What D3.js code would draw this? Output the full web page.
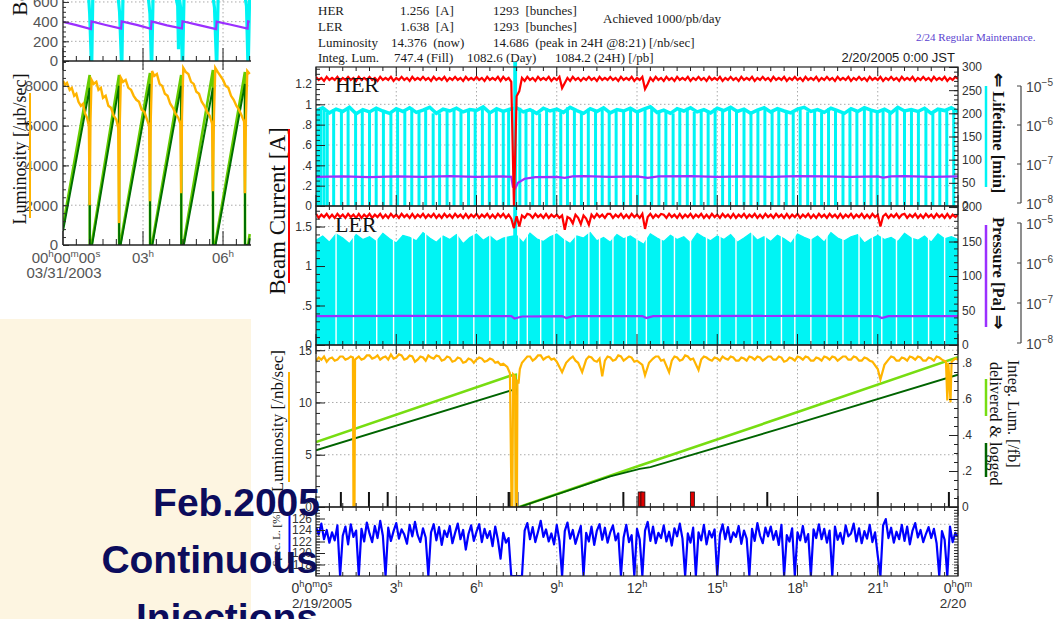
<!DOCTYPE html>
<html><head><meta charset="utf-8">
<script src="https://cdn.jsdelivr.net/npm/d3@7"></script>
<style>
html,body{margin:0;padding:0;background:#fff;}
svg{display:block;}
</style></head><body>
<svg id="chart" width="1057" height="619"></svg>
<script>
// ================= DATA =================
const STEP = 0.1;   // hours between samples (current / spec. lum.)
const LSTEP = 0.25; // hours between samples (lifetime levels)

// HER beam current [A], every 0.1 h from 0h to 24h
const herCurrent = [
1.27,1.24,1.26,1.23,1.27,1.24,1.26,1.24,1.27,1.23,
1.26,1.24,1.27,1.24,1.26,1.23,1.27,1.24,1.26,1.24,
1.27,1.24,1.26,1.23,1.27,1.24,1.26,1.24,1.27,1.23,
1.26,1.24,1.27,1.24,1.26,1.23,1.27,1.24,1.26,1.24,
1.27,1.24,1.26,1.23,1.27,1.24,1.26,1.24,1.27,1.23,
1.26,1.24,1.27,1.24,1.26,1.23,1.27,1.24,1.26,1.24,
1.27,1.24,1.26,1.23,1.27,1.24,1.26,1.24,1.27,1.23,
1.27,1.24,1.26,1.22,0.00,1.08,1.13,1.26,1.23,1.27,
1.24,1.26,1.23,1.27,1.24,1.26,1.24,1.27,1.23,1.26,
1.24,1.27,1.16,1.21,1.26,1.23,1.27,1.24,1.26,1.23,
1.26,1.24,1.27,1.24,1.26,1.23,1.27,1.24,1.26,1.24,
1.27,1.24,1.26,1.23,1.27,1.24,1.26,1.24,1.27,1.23,
1.26,1.24,1.27,1.15,1.20,1.26,1.23,1.27,1.24,1.26,
1.23,1.27,1.24,1.26,1.23,1.27,1.24,1.26,1.24,1.27,
1.23,1.26,1.24,1.27,1.24,1.26,1.23,1.27,1.24,1.26,
1.24,1.27,1.23,1.26,1.24,1.27,1.24,1.26,1.23,1.27,
1.24,1.26,1.24,1.27,1.23,1.26,1.24,1.27,1.24,1.26,
1.23,1.27,1.24,1.26,1.24,1.27,1.23,1.26,1.24,1.27,
1.24,1.26,1.23,1.27,1.24,1.26,1.24,1.27,1.23,1.26,
1.24,1.27,1.24,1.26,1.23,1.27,1.24,1.26,1.24,1.27,
1.23,1.26,1.24,1.27,1.24,1.26,1.23,1.27,1.24,1.26,
1.24,1.27,1.23,1.26,1.24,1.27,1.24,1.26,1.23,1.27,
1.24,1.26,1.24,1.27,1.23,1.26,1.24,1.27,1.24,1.26,
1.23,1.27,1.24,1.26,1.24,1.27,1.23,1.26,1.24,1.27,
1.25];

// LER beam current [A], every 0.1 h
const lerCurrent = [
1.66,1.61,1.65,1.62,1.66,1.61,1.65,1.61,1.66,1.62,
1.65,1.61,1.66,1.62,1.65,1.61,1.66,1.61,1.65,1.62,
1.66,1.61,1.65,1.62,1.66,1.61,1.65,1.61,1.66,1.62,
1.65,1.61,1.66,1.62,1.65,1.61,1.66,1.61,1.65,1.62,
1.66,1.61,1.65,1.62,1.66,1.61,1.65,1.61,1.66,1.62,
1.65,1.61,1.66,1.62,1.65,1.61,1.66,1.61,1.65,1.62,
1.66,1.61,1.65,1.62,1.66,1.61,1.65,1.61,1.66,1.62,
1.66,1.61,1.65,1.60,1.48,1.63,1.50,1.64,1.61,1.66,
1.65,1.61,1.66,1.62,1.65,1.61,1.66,1.61,1.65,1.62,
1.65,1.61,1.64,1.46,1.62,1.60,1.54,1.65,1.61,1.53,
1.64,1.60,1.52,1.65,1.61,1.66,1.62,1.65,1.61,1.66,
1.66,1.61,1.65,1.62,1.66,1.61,1.65,1.61,1.66,1.62,
1.65,1.61,1.66,1.47,1.62,1.66,1.61,1.65,1.62,1.66,
1.65,1.61,1.66,1.62,1.65,1.61,1.66,1.61,1.65,1.62,
1.66,1.61,1.65,1.62,1.66,1.61,1.65,1.61,1.66,1.62,
1.65,1.61,1.66,1.62,1.65,1.61,1.66,1.61,1.65,1.62,
1.66,1.61,1.65,1.62,1.66,1.61,1.65,1.61,1.66,1.62,
1.65,1.61,1.66,1.62,1.65,1.61,1.66,1.61,1.65,1.62,
1.66,1.61,1.65,1.62,1.66,1.61,1.65,1.61,1.66,1.62,
1.65,1.61,1.66,1.62,1.65,1.61,1.66,1.61,1.65,1.62,
1.66,1.61,1.65,1.62,1.66,1.61,1.65,1.61,1.66,1.62,
1.65,1.50,1.63,1.66,1.61,1.65,1.62,1.66,1.61,1.65,
1.66,1.61,1.65,1.62,1.66,1.61,1.65,1.61,1.66,1.62,
1.65,1.61,1.66,1.62,1.65,1.61,1.66,1.61,1.65,1.62,
1.65];

// Specific luminosity [%], every 0.1 h
const specLumi = [
124.5,123.2,125.1,122.4,124.0,121.8,123.6,122.2,124.8,116.0,
123.0,124.6,121.5,125.0,122.8,123.9,116.0,124.2,122.0,125.3,
123.4,121.9,124.7,122.6,125.6,123.0,116.0,124.4,122.1,123.8,
125.2,122.5,124.1,123.2,121.6,124.9,122.9,125.4,123.1,121.9,
124.3,122.7,116.0,123.6,125.0,122.2,124.5,121.4,123.9,122.8,
124.7,121.7,123.5,125.1,122.4,124.0,120.6,123.3,124.8,122.1,
123.7,125.0,121.9,124.2,122.6,123.8,121.2,124.6,122.3,119.0,
123.5,121.8,122.6,116.0,116.0,116.0,116.0,116.0,123.9,125.2,
122.4,124.5,121.9,123.7,125.6,122.8,124.1,122.0,123.4,121.5,
124.9,122.1,116.0,123.8,125.3,122.5,124.0,121.6,123.2,124.7,
116.0,123.5,122.0,124.6,121.4,123.9,125.0,122.3,124.4,121.8,
123.6,124.8,122.2,123.4,116.0,122.7,124.9,121.9,123.1,116.0,
124.2,122.4,116.0,123.9,125.4,122.1,124.6,121.7,123.5,122.6,
124.8,122.0,123.7,121.3,124.3,122.9,125.1,122.5,116.0,123.4,
121.8,124.4,116.0,123.6,122.2,124.9,121.5,123.8,122.7,124.1,
116.0,123.2,125.0,122.4,124.5,121.9,123.6,122.8,124.7,121.6,
123.9,122.5,116.0,124.2,122.1,125.2,123.0,121.7,124.4,122.9,
124.6,122.3,123.8,121.4,124.9,116.0,123.1,122.0,124.3,116.0,
123.6,122.2,124.7,121.9,123.3,116.0,124.1,122.6,125.0,122.4,
124.2,121.8,123.9,116.0,124.6,122.3,123.5,121.6,124.8,122.9,
123.4,125.1,122.0,124.3,121.7,123.8,122.5,124.9,121.9,123.6,
119.5,116.0,124.8,125.9,122.6,124.4,121.8,123.7,122.4,124.9,
122.1,124.6,121.5,123.9,125.2,122.7,124.0,121.9,123.3,124.5,
122.6,124.2,121.7,116.0,123.8,122.3,116.0,124.6,121.9,123.5,
122.8];

// HER lifetime level [min], every 0.25 h
const herLifetime = [
206,212,201,209,204,213,199,208,203,211,205,200,210,204,212,202,207,213,200,209,205,211,203,208,206,214,201,210,204,209,
212,203,208,200,211,205,209,202,213,206,200,210,204,212,201,208,205,211,203,209,214,202,207,200,210,205,212,203,208,201,
211,206,213,204,209,200,207,212,203,210,205,201,209,213,204,208,202,211,206,200,210,204,212,207,203,209,201,213,205,208,
204,211,200,209,206,212,203];
// LER lifetime level [min], every 0.25 h
const lerLifetime = [
152,158,149,161,155,147,160,153,157,150,162,154,148,159,156,151,163,155,149,158,153,160,147,156,161,152,158,150,155,157,
159,148,162,154,150,157,161,153,147,158,155,163,151,156,149,160,154,158,152,146,161,155,150,159,153,157,148,162,156,151,
158,153,160,149,155,162,152,157,150,159,154,147,161,156,152,158,149,163,155,151,157,160,148,154,159,153,156,150,162,155,
152,158,149,161,154,157,153];

// HER injection times [h] (lifetime drops)
const herInjections = [0.03,0.1,0.18,0.3,0.42,0.66,0.95,1.2,1.48,1.73,2.0,2.25,2.52,2.8,3.05,3.32,3.58,3.85,4.1,4.38,4.62,4.9,5.16,5.42,5.7,5.95,6.22,6.48,6.74,7.0,7.2,
7.62,7.85,8.1,8.36,8.62,8.9,9.15,9.4,9.66,9.92,10.18,10.45,10.7,10.96,11.22,11.5,11.76,12.02,12.3,12.55,12.82,13.08,13.35,13.6,13.88,14.14,14.4,14.66,14.92,15.2,15.46,15.72,16.0,16.26,16.52,16.78,17.05,17.3,17.58,17.84,18.1,18.38,18.64,18.9,19.16,19.42,19.7,19.96,20.22,20.5,20.75,20.98,21.2,21.45,21.72,22.0,22.26,22.52,22.8,23.06,23.32,23.58,23.84];
// LER: times where continuous injection paused (white gaps)
const lerGaps = [0.75,1.4,2.27,2.9,3.6,4.1,4.7,5.3,5.9,6.5,7.1,7.58,7.9,8.4,8.9,9.3,9.7,10.2,10.6,11.1,11.6,12.0,12.35,12.9,13.4,14.0,14.6,15.1,15.7,16.3,16.8,17.4,17.9,18.5,19.1,19.7,20.3,20.8,21.15,21.7,22.3,22.9,23.5];
// Lifetime spike (beam abort) times [h]
const lifetimeKick = [7.42,7.47];

// Pressure [Pa]  [hour, value]
const herPressure = [[0,4.7e-8],[1,4.8e-8],[2,4.6e-8],[3,4.8e-8],[4,4.7e-8],[5,4.9e-8],[6,4.7e-8],[7,4.8e-8],[7.3,4.7e-8],[7.36,2.6e-8],[7.45,2.4e-8],[7.55,3.3e-8],[7.8,4.2e-8],[8.2,4.6e-8],[9,4.7e-8],[9.3,4.4e-8],[9.6,4.8e-8],[10,4.9e-8],[11,4.7e-8],[12,4.8e-8],[12.4,4.4e-8],[12.8,4.8e-8],[14,4.9e-8],[15,4.7e-8],[16,4.8e-8],[17,4.7e-8],[18,4.9e-8],[19,4.8e-8],[20,4.7e-8],[21,4.8e-8],[21.2,4.5e-8],[21.5,4.8e-8],[22,4.9e-8],[23,4.7e-8],[24,4.8e-8]];
const lerPressure = [[0,4.7e-8],[3,4.75e-8],[7.3,4.7e-8],[7.42,4.1e-8],[7.7,4.6e-8],[9.2,4.7e-8],[9.35,4.2e-8],[9.6,4.7e-8],[12.2,4.7e-8],[12.35,4.2e-8],[12.6,4.7e-8],[18,4.75e-8],[21.0,4.7e-8],[21.15,4.2e-8],[21.4,4.7e-8],[24,4.7e-8]];

// Luminosity [/nb/sec]  [hour, value]
const luminosity = [[0,14.0],[0.1,14.3],[0.2,14.1],[0.3,14.4],[0.4,13.9],[0.5,14.2],[0.6,14.3],[0.7,14.0],[0.8,14.1],[0.9,14.4],[1.0,14.4],[1.1,14.1],[1.2,14.2],[1.3,14.4],[1.38,14.3],[1.4,0],[1.44,0],[1.46,14.1],[1.6,14.4],[1.7,14.1],[1.8,14.2],[1.9,14.5],[2.0,14.5],[2.1,14.2],[2.2,14.3],[2.3,14.5],[2.4,14.1],[2.5,14.3],[2.6,14.4],[2.7,14.1],[2.8,14.6],[2.9,14.2],[3.0,14.3],[3.1,14.6],[3.2,14.5],[3.3,14.1],[3.4,14.2],[3.5,14.5],[3.6,14.4],[3.7,13.9],[3.8,14.1],[3.9,14.4],[4.0,14.3],[4.1,14.0],[4.2,14.5],[4.3,14.3],[4.4,14.2],[4.5,14.5],[4.6,14.4],[4.7,14.0],[4.8,14.1],[4.9,14.4],[5.0,14.3],[5.1,13.9],[5.2,14.0],[5.3,14.3],[5.4,14.2],[5.5,13.8],[5.6,13.9],[5.7,14.2],[5.8,14.1],[5.9,13.8],[6.0,14.1],[6.1,14.3],[6.2,14.2],[6.3,13.9],[6.4,14.0],[6.5,14.2],[6.6,14.1],[6.7,13.8],[6.8,13.9],[6.9,13.6],[7.0,13.7],[7.15,13.4],[7.25,12.8],[7.31,0],[7.34,0],[7.37,12.7],[7.44,12.5],[7.47,0],[7.51,0],[7.53,12.2],[7.57,11.8],[7.62,13.2],[7.7,13.8],[7.8,14.1],[7.9,14.4],[8.0,14.4],[8.1,14.0],[8.2,14.2],[8.3,14.5],[8.4,14.5],[8.5,14.1],[8.6,14.3],[8.7,14.4],[8.8,14.1],[8.9,14.2],[9.0,13.9],[9.2,12.9],[9.35,13.8],[9.5,14.2],[9.6,14.4],[9.7,14.0],[9.8,13.8],[9.95,12.9],[10.1,14.1],[10.2,14.4],[10.3,14.3],[10.4,14.0],[10.5,13.9],[10.6,14.2],[10.7,12.5],[10.8,14.0],[10.9,14.4],[11.0,14.3],[11.1,14.0],[11.2,14.1],[11.3,14.5],[11.4,14.4],[11.5,14.0],[11.6,14.2],[11.7,14.4],[11.8,14.3],[11.9,13.9],[12.0,14.0],[12.2,13.6],[12.3,12.6],[12.45,13.8],[12.6,14.2],[12.7,14.4],[12.8,14.4],[12.9,14.0],[13.0,14.1],[13.2,12.9],[13.3,14.0],[13.4,14.4],[13.5,14.3],[13.6,14.0],[13.7,14.1],[13.8,14.5],[13.9,14.4],[14.0,14.1],[14.1,14.2],[14.3,13.1],[14.4,14.1],[14.5,14.4],[14.6,14.3],[14.7,14.1],[14.8,14.0],[14.9,14.3],[15.0,14.2],[15.1,14.0],[15.2,14.4],[15.3,14.2],[15.4,14.1],[15.5,14.4],[15.6,14.3],[15.7,14.0],[15.8,14.0],[15.9,14.3],[16.0,14.2],[16.1,14.0],[16.2,14.4],[16.3,14.3],[16.4,14.1],[16.5,14.4],[16.6,14.3],[16.7,14.0],[16.8,14.2],[16.9,14.4],[17.0,14.4],[17.1,14.1],[17.2,14.1],[17.3,14.4],[17.4,14.3],[17.5,13.9],[17.6,14.0],[17.7,14.3],[17.8,14.2],[17.9,14.0],[18.0,14.4],[18.1,14.3],[18.2,14.1],[18.3,14.4],[18.4,14.3],[18.5,14.0],[18.6,14.0],[18.7,14.3],[18.8,14.2],[18.9,14.0],[19.0,14.4],[19.1,14.3],[19.2,14.1],[19.3,14.4],[19.4,14.3],[19.5,14.0],[19.6,14.2],[19.7,14.4],[19.8,14.4],[19.9,14.1],[20.0,14.1],[20.1,14.4],[20.2,14.3],[20.3,14.0],[20.4,14.0],[20.5,14.3],[20.6,14.2],[20.7,14.0],[20.8,13.9],[21.0,13.2],[21.1,12.2],[21.25,13.6],[21.4,14.1],[21.5,14.4],[21.6,14.3],[21.7,14.0],[21.8,14.0],[21.9,14.3],[22.0,14.2],[22.1,14.0],[22.2,14.4],[22.3,14.3],[22.4,14.1],[22.5,14.4],[22.6,14.3],[22.7,14.0],[22.8,14.0],[22.9,14.3],[23.0,14.2],[23.1,14.0],[23.2,14.4],[23.3,14.3],[23.4,14.1],[23.55,13.9],[23.6,10.2],[23.64,13.8],[23.72,10.0],[23.76,13.9],[23.9,14.2],[24.0,14.1]];
// Integrated luminosity [/fb]  [hour, value]
const integDelivered = [[0,0.361],[7.3,0.731],[7.47,0.735],[7.48,0],[7.6,0],[12,0.225],[17.35,0.494],[24,0.832]];
const integLogged = [[0,0.315],[7.3,0.648],[7.47,0.652],[7.48,0],[7.6,0],[11.0,0.17],[12.1,0.212],[12.5,0.222],[17.35,0.435],[24,0.735]];
// Abort / trip markers
const tripMarks = [{t:0.93,k:"black"},{t:1.98,k:"black"},{t:2.68,k:"black"},{t:7.2,k:"black"},{t:7.26,k:"black"},{t:7.32,k:"black"},{t:7.53,k:"black"},{t:11.49,k:"black"},{t:12.12,k:"red"},{t:12.22,k:"red"},{t:14.07,k:"red"},{t:16.87,k:"black"},{t:21.0,k:"black"},{t:23.66,k:"black"}];

// Tick values / labels
const herTicks = [0,0.2,0.4,0.6,0.8,1,1.2];
const lerTicks = [0,0.5,1,1.5];
const lifeTicks = [0,50,100,150,200,250,300];
const presTicks = [0,50,100,150,200];
const lumTicks = [0,5,10,15];
const integTicks = [0,0.2,0.4,0.6,0.8];
const specTicks = [118,120,122,124,126];
const logTicks = [1e-8,1e-7,1e-6,1e-5];
const timeLabels = [
 {t:0,parts:["0","h","0","m","0","s"],sub:"2/19/2005"},{t:3,parts:["3","h"]},{t:6,parts:["6","h"]},{t:9,parts:["9","h"]},
 {t:12,parts:["12","h"]},{t:15,parts:["15","h"]},{t:18,parts:["18","h"]},{t:21,parts:["21","h"]},{t:24,parts:["0","h","0","m"],sub:"2/20"}];

// ---- Inset (03/31/2003) ----
const insetCurrent = [[0,398],[0.5,365],[1.05,325],[1.07,402],[1.6,366],[2.18,330],[2.2,403],[2.8,365],[3.3,328],[3.32,402],[3.9,362],[4.46,330],[4.48,404],[5.1,365],[5.74,325],[5.76,400],[6.3,368],[6.92,330],[6.94,402],[7.0,398]];
const insetCyan = [[0,700],[0.95,700],[1.0,480],[1.06,0],[1.08,0],[1.12,700],[2.05,700],[2.12,500],[2.19,0],[2.21,0],[2.25,700],[3.18,700],[3.26,480],[3.31,0],[3.33,0],[3.38,700],[4.2,700],[4.3,560],[4.33,120],[4.36,650],[4.42,520],[4.47,0],[4.49,0],[4.54,700],[5.6,700],[5.68,540],[5.75,0],[5.77,0],[5.82,700],[6.8,700],[6.88,560],[6.93,0],[6.95,0],[7.0,700]];
const insetLum = [[0,8250],[0.08,8050],[0.15,8150],[0.25,7800],[0.33,7900],[0.42,7500],[0.5,7600],[0.58,7200],[0.67,7000],[0.75,7100],[0.83,6600],[0.9,6400],[0.97,6000],[1.0,2000],[1.03,6300],[1.07,8300],
[1.15,8100],[1.25,8200],[1.33,7800],[1.42,7900],[1.5,7400],[1.6,7500],[1.7,7000],[1.8,6900],[1.9,6500],[2.0,6300],[2.07,5900],[2.1,1100],[2.13,6200],[2.17,8400],
[2.25,8200],[2.35,8300],[2.45,7900],[2.55,7800],[2.65,7500],[2.75,7300],[2.85,7200],[2.95,6800],[3.05,6700],[3.15,6300],[3.23,6000],[3.26,2200],[3.29,6300],[3.34,8750],
[3.42,8500],[3.52,8600],[3.62,8100],[3.72,8000],[3.82,7600],[3.92,7500],[4.02,7100],[4.12,6900],[4.22,6600],[4.32,6400],[4.4,6100],[4.43,2600],[4.46,6400],[4.51,8900],
[4.6,8700],[4.7,8600],[4.8,8200],[4.9,8100],[5.0,7700],[5.1,7600],[5.2,7200],[5.3,7000],[5.4,6700],[5.5,6500],[5.59,6100],[5.62,2700],[5.66,6500],[5.71,8900],
[5.8,8700],[5.9,8500],[6.0,8300],[6.1,8000],[6.2,7900],[6.3,7500],[6.4,7300],[6.5,7000],[6.6,6800],[6.7,6500],[6.79,6200],[6.82,2600],[6.86,6500],[6.91,8750],[7.0,8600]];
const insetDelivered = [[0,950],[1.0,8550],[1.005,0],[1.07,0],[2.1,8550],[2.105,0],[2.14,0],[3.26,8650],[3.265,0],[3.33,0],[4.43,8550],[4.435,0],[4.51,0],[5.62,8800],[5.625,0],[5.7,0],[6.82,8700],[6.825,0],[6.94,0],[7.0,550]];
const insetLogged = [[0,700],[1.0,7900],[1.005,0],[1.09,0],[2.1,8000],[2.105,0],[2.16,0],[3.26,8100],[3.265,0],[3.35,0],[4.43,8000],[4.435,0],[4.53,0],[5.62,7900],[5.625,0],[5.72,0],[6.82,8100],[6.825,0],[6.96,0],[7.0,350]];
const insetCurrentTicks = [0,200,400,600];
const insetLumTicks = [0,2000,4000,6000,8000];
const insetTimeLabels = [{t:0,parts:["00","h","00","m","00","s"],sub:"03/31/2003"},{t:3,parts:["03","h"]},{t:6,parts:["06","h"]}];

const headerRows = [
 {y:15, cells:[[318,"HER"],[400,"1.256  [A]"],[493,"1293  [bunches]"]]},
 {y:31, cells:[[318,"LER"],[400,"1.638  [A]"],[493,"1293  [bunches]"]]},
 {y:47, cells:[[318,"Luminosity"],[391,"14.376  (now)"],[493,"14.686  (peak in 24H @8:21) [/nb/sec]"]]},
 {y:62, cells:[[318,"Integ. Lum."],[394,"747.4 (Fill)"],[467,"1082.6 (Day)"],[555,"1084.2 (24H) [/pb]"]]}
];

// ================= RENDER =================
const SERIF = "'Liberation Serif','Times New Roman',serif";
const SANS = "'Liberation Sans',Arial,sans-serif";
const svg = d3.select("#chart");
const defs = svg.append("defs");
function clip(id,x,y,w,h){defs.append("clipPath").attr("id",id).append("rect").attr("x",x).attr("y",y).attr("width",w).attr("height",h);return `url(#${id})`;}
const sampled = (arr, step) => arr.map((v,i)=>[i*step, v]);
function supText(g, parts, x, y, size, anchor, fill){
  const t = g.append("text").attr("x",x).attr("y",y).attr("text-anchor",anchor)
    .style("font-family",SANS).style("font-size",size+"px").attr("fill",fill);
  parts.forEach((p,i)=>{const s=t.append("tspan").text(p);
    if(i%2===1){s.attr("dy",-size*0.42).style("font-size",(size*0.66)+"px");}
    else if(i>0){s.attr("dy",size*0.42);} });
  return t;
}
const fmtDot = d => d===0 ? "0" : d3.format("~g")(d).replace(/^0\./,".");

// cream background box of the slide
svg.append("rect").attr("x",0).attr("y",319).attr("width",251).attr("height",300).attr("fill","#fdf5e1");

// ---------------- INSET ----------------
const ix = d3.scaleLinear([0,7],[63,249.7]);
const iyA = d3.scaleLinear([0,620],[61,0]);
const iyB = d3.scaleLinear([0,9250],[245,61]);
const inset = svg.append("g");
const grid = (g)=>g.attr("stroke","#aaa").attr("stroke-width",1).attr("stroke-dasharray","1.5,2.5");
inset.append("g").call(grid).selectAll("line").data([200,400,600]).join("line")
  .attr("x1",63).attr("x2",251).attr("y1",d=>iyA(d)).attr("y2",d=>iyA(d));
inset.append("g").call(grid).selectAll("line").data([2000,4000,6000,8000]).join("line")
  .attr("x1",63).attr("x2",251).attr("y1",d=>iyB(d)).attr("y2",d=>iyB(d));
inset.append("g").call(grid).selectAll("line").data([3,6]).join("line")
  .attr("x1",d=>ix(d)).attr("x2",d=>ix(d)).attr("y1",0).attr("y2",245);
const gA = inset.append("g").attr("clip-path",clip("cA",63,0,188,61));
gA.append("path").datum(insetCyan).attr("fill","none").attr("stroke","#00f4f4").attr("stroke-width",3.2)
  .attr("d",d3.line().x(d=>ix(d[0])).y(d=>iyA(d[1])));
gA.append("path").datum(insetCurrent).attr("fill","none").attr("stroke","#9b30ff").attr("stroke-width",2.2)
  .attr("d",d3.line().x(d=>ix(d[0])).y(d=>iyA(d[1])));
const gB = inset.append("g").attr("clip-path",clip("cB",63,61,188,184));
gB.append("path").datum(insetDelivered).attr("fill","none").attr("stroke","#66cc00").attr("stroke-width",2.6)
  .attr("d",d3.line().x(d=>ix(d[0])).y(d=>iyB(d[1])));
gB.append("path").datum(insetLogged).attr("fill","none").attr("stroke","#007000").attr("stroke-width",2)
  .attr("d",d3.line().x(d=>ix(d[0])).y(d=>iyB(d[1])));
gB.append("path").datum(insetLum).attr("fill","none").attr("stroke","#ffb400").attr("stroke-width",2.4)
  .attr("d",d3.line().x(d=>ix(d[0])).y(d=>iyB(d[1])));
function insetAxis(scale, major, minor){
  const g = inset.append("g").attr("transform","translate(63,0)");
  g.call(d3.axisLeft(scale).tickValues(minor).tickSize(-3).tickFormat(""));
  g.append("g").call(d3.axisLeft(scale).tickValues(major).tickSize(-6).tickPadding(5).tickFormat(d3.format("d")));
  g.selectAll(".domain").remove();
  g.selectAll("line").attr("stroke","#333");
  g.selectAll("text").attr("fill","#555").style("font-family",SANS).style("font-size","15px");
}
insetAxis(iyA, insetCurrentTicks, d3.range(0,620,50));
insetAxis(iyB, insetLumTicks, d3.range(0,9250,400));
inset.append("line").attr("x1",63).attr("x2",63).attr("y1",0).attr("y2",245).attr("stroke","#222").attr("stroke-width",1.3);
[61,245].forEach(y=>inset.append("line").attr("x1",63).attr("x2",251).attr("y1",y).attr("y2",y).attr("stroke","#222").attr("stroke-width",1.3));
const iticks = d3.range(0,7.01,0.5);
inset.append("g").selectAll("line").data(iticks).join("line").attr("stroke","#222")
  .attr("x1",d=>ix(d)).attr("x2",d=>ix(d)).attr("y1",d=>61-(d%3===0?13:5)).attr("y2",d=>61+(d%3===0?9:0));
inset.append("g").selectAll("line").data(iticks).join("line").attr("stroke","#222")
  .attr("x1",d=>ix(d)).attr("x2",d=>ix(d)).attr("y1",d=>245-(d%3===0?14:6)).attr("y2",245);
insetTimeLabels.forEach(l=>{
  supText(inset,l.parts,ix(l.t)+(l.t===0?3:0),263,15,"middle","#555");
  if(l.sub) inset.append("text").attr("x",64).attr("y",278).attr("text-anchor","middle")
     .style("font-family",SANS).style("font-size","15px").attr("fill","#555").text(l.sub);
});
inset.append("text").attr("transform","translate(26,149) rotate(-90)").attr("text-anchor","middle")
  .style("font-family",SERIF).style("font-size","18px").attr("fill","#111").text("Luminosity [/\u03bcb/sec]");
inset.append("text").attr("transform","translate(27,16) rotate(-90)").attr("text-anchor","start")
  .style("font-family",SERIF).style("font-size","22px").attr("fill","#111").text("Beam Current [mA]");
inset.append("line").attr("x1",30).attr("x2",30).attr("y1",93).attr("y2",218).attr("stroke","#ffb400").attr("stroke-width",2);

// ---------------- MAIN CHART ----------------
const X0 = 316, X1 = 958;
const x = d3.scaleLinear([0,24],[X0,X1]);
const panels = [{top:67,bot:206},{top:206,bot:345},{top:345,bot:507},{top:507,bot:576}];
const yHER = d3.scaleLinear([0,1.367],[206,67]);
const yHERlife = d3.scaleLinear([0,300],[206,67]);
const yLER = d3.scaleLinear([0,1.76],[345,206]);
const yLERlife = d3.scaleLinear([0,201.5],[345,206]);
const yP1 = d3.scaleLog([1e-8,1e-5],[203,86]);
const yP2 = d3.scaleLog([1e-8,1e-5],[343,223]);
const yLum = d3.scaleLinear([0,15.5],[507,345]);
const yInt = d3.scaleLinear([0,0.9],[507,345]);
const ySpec = d3.scaleLinear([116,128],[576,507]);
const main = svg.append("g");

headerRows.forEach(r=>r.cells.forEach(c=>main.append("text").attr("x",c[0]).attr("y",r.y)
  .style("font-family",SERIF).style("font-size","13px").attr("fill","#1a1a1a").attr("xml:space","preserve").text(c[1])));
main.append("text").attr("x",603).attr("y",23).style("font-family",SERIF).style("font-size","13px").attr("fill","#1a1a1a").text("Achieved 1000/pb/day");
main.append("text").attr("x",916).attr("y",41).style("font-family",SERIF).style("font-size","11px").attr("fill","#5a3fd0").text("2/24 Regular Maintenance.");
main.append("text").attr("x",955).attr("y",62).attr("text-anchor","end").style("font-family",SANS).style("font-size","13px").attr("fill","#1a1a1a").text("2/20/2005 0:00 JST");

function hGrid(scale, vals){ main.append("g").call(grid).selectAll("line").data(vals).join("line")
  .attr("x1",X0).attr("x2",X1).attr("y1",d=>scale(d)).attr("y2",d=>scale(d)); }
hGrid(yHER,[0.2,0.4,0.6,0.8,1.0]);
hGrid(yLER,[0.5,1,1.5]);
hGrid(yLum,[5,10,15]);
hGrid(ySpec,[118,125]);
panels.forEach(p=>main.append("g").call(grid).selectAll("line").data([3,6,9,12,15,18,21]).join("line")
  .attr("x1",d=>x(d)).attr("x2",d=>x(d)).attr("y1",p.top).attr("y2",p.bot));

// Panel 1 : HER
const g1 = main.append("g").attr("clip-path",clip("c1",X0,62,X1-X0,144));
g1.append("g").selectAll("line").data(herInjections).join("line")
  .attr("x1",d=>x(d)).attr("x2",d=>x(d)).attr("y1",d=>yHERlife(herLifetime[Math.round(d/LSTEP)])).attr("y2",yHERlife(0))
  .attr("stroke","#00f4f4").attr("stroke-width",3);
g1.append("path").datum(sampled(herLifetime, LSTEP)).attr("fill","none").attr("stroke","#00f4f4").attr("stroke-width",3.5)
  .attr("d",d3.line().x(d=>x(d[0])).y(d=>yHERlife(d[1])));
g1.append("g").selectAll("line").data(lifetimeKick).join("line")
  .attr("x1",d=>x(d)).attr("x2",d=>x(d)).attr("y1",yHERlife(330)).attr("y2",yHERlife(0)).attr("stroke","#00f4f4").attr("stroke-width",2.5);
g1.append("path").datum(herPressure).attr("fill","none").attr("stroke","#9b30ff").attr("stroke-width",2.2)
  .attr("d",d3.line().x(d=>x(d[0])).y(d=>yP1(d[1])));
g1.append("path").datum(sampled(herCurrent,STEP)).attr("fill","none").attr("stroke","#ff0000").attr("stroke-width",2.2)
  .attr("d",d3.line().x(d=>x(d[0])).y(d=>yHER(d[1])));

// Panel 2 : LER
const g2 = main.append("g").attr("clip-path",clip("c2",X0,206,X1-X0,139));
g2.append("path").datum(sampled(lerLifetime, LSTEP)).attr("fill","#00f4f4").attr("stroke","#00f4f4").attr("stroke-width",1.2)
  .attr("d",d3.area().x(d=>x(d[0])).y0(yLERlife(0)).y1(d=>yLERlife(d[1])));
g2.append("g").selectAll("line").data(lerGaps).join("line")
  .attr("x1",d=>x(d)).attr("x2",d=>x(d)).attr("y1",yLERlife(200)).attr("y2",yLERlife(0))
  .attr("stroke","#fff").attr("stroke-width",1.4);
g2.append("g").selectAll("line").data(lifetimeKick).join("line")
  .attr("x1",d=>x(d)).attr("x2",d=>x(d)).attr("y1",yLERlife(200)).attr("y2",yLERlife(0)).attr("stroke","#00f4f4").attr("stroke-width",2.5);
g2.append("path").datum(lerPressure).attr("fill","none").attr("stroke","#9b30ff").attr("stroke-width",2.2)
  .attr("d",d3.line().x(d=>x(d[0])).y(d=>yP2(d[1])));
g2.append("path").datum(sampled(lerCurrent,STEP)).attr("fill","none").attr("stroke","#ff0000").attr("stroke-width",2.2)
  .attr("d",d3.line().x(d=>x(d[0])).y(d=>yLER(d[1])));

// Panel 3 : Luminosity
const g3 = main.append("g").attr("clip-path",clip("c3",X0,345,X1-X0,162));
g3.append("g").selectAll("line").data(tripMarks.filter(d=>d.k==="black")).join("line")
  .attr("x1",d=>x(d.t)).attr("x2",d=>x(d.t)).attr("y1",507).attr("y2",492).attr("stroke","#111").attr("stroke-width",2);
g3.append("g").selectAll("rect").data(tripMarks.filter(d=>d.k==="red")).join("rect")
  .attr("x",d=>x(d.t)-2).attr("width",4).attr("y",492).attr("height",15).attr("fill","#e00000").attr("stroke","#111").attr("stroke-width",0.8);
g3.append("path").datum(integDelivered).attr("fill","none").attr("stroke","#77dd11").attr("stroke-width",2.6)
  .attr("d",d3.line().x(d=>x(d[0])).y(d=>yInt(d[1])));
g3.append("path").datum(integLogged).attr("fill","none").attr("stroke","#006400").attr("stroke-width",1.8)
  .attr("d",d3.line().x(d=>x(d[0])).y(d=>yInt(d[1])));
g3.append("path").datum(luminosity).attr("fill","none").attr("stroke","#ffb400").attr("stroke-width",2.2)
  .attr("d",d3.line().x(d=>x(d[0])).y(d=>yLum(d[1])));

// Panel 4 : specific luminosity
const g4 = main.append("g").attr("clip-path",clip("c4",X0,507,X1-X0,69));
g4.append("path").datum(sampled(specLumi,STEP)).attr("fill","none").attr("stroke","#0000ff").attr("stroke-width",2.2)
  .attr("stroke-linejoin","round").attr("d",d3.line().x(d=>x(d[0])).y(d=>ySpec(d[1])));

function yAxis(scale, side, major, minor, fmt){
  const pos = side==="left"?X0:X1;
  const mk = ()=> side==="left"? d3.axisLeft(scale) : d3.axisRight(scale);
  const g = main.append("g").attr("transform",`translate(${pos},0)`);
  g.call(mk().tickValues(minor).tickSize(-4).tickFormat(""));
  g.append("g").call(mk().tickValues(major).tickSize(-9).tickPadding(4).tickFormat(fmt||""));
  g.selectAll(".domain").remove();
  g.selectAll("line").attr("stroke","#222");
  g.selectAll("text").attr("fill","#333").style("font-family",SANS).style("font-size","12px");
}
yAxis(yHER,"left",herTicks,d3.range(0,1.36,0.05),fmtDot);
yAxis(yLER,"left",lerTicks,d3.range(0,1.76,0.1),fmtDot);
yAxis(yLum,"left",lumTicks,d3.range(0,15.6,1),d3.format("d"));
yAxis(ySpec,"left",specTicks,d3.range(116.5,128,0.5),d3.format("d"));
yAxis(yHERlife,"right",lifeTicks,d3.range(0,300,10),d3.format("d"));
yAxis(yLERlife,"right",presTicks,d3.range(0,201,10),d3.format("d"));
yAxis(yInt,"right",integTicks,d3.range(0,0.9,0.05),fmtDot);
yAxis(ySpec,"right",[],d3.range(116.5,128,0.5),null);

const tticks = d3.range(0,24.01,0.5);
panels.forEach(p=>{
  main.append("g").selectAll("line").data(tticks).join("line").attr("stroke","#222")
    .attr("x1",d=>x(d)).attr("x2",d=>x(d)).attr("y1",p.top).attr("y2",d=>p.top+(d%3===0?9:4));
  main.append("g").selectAll("line").data(tticks).join("line").attr("stroke","#222")
    .attr("x1",d=>x(d)).attr("x2",d=>x(d)).attr("y1",p.bot).attr("y2",d=>p.bot-(d%3===0?11:4));
});
panels.forEach(p=>main.append("rect").attr("x",X0).attr("y",p.top).attr("width",X1-X0).attr("height",p.bot-p.top)
  .attr("fill","none").attr("stroke","#222").attr("stroke-width",1.2));

timeLabels.forEach(l=>{
  supText(main,l.parts,x(l.t)-(l.t===0?4:0),593,14,"middle","#333");
  if(l.sub) main.append("text").attr("x",x(l.t)+(l.t===0?6:-5)).attr("y",608).attr("text-anchor","middle")
    .style("font-family",SANS).style("font-size","13.5px").attr("fill","#333").text(l.sub);
});

[yP1,yP2].forEach(s=>{
  const g = main.append("g");
  g.append("line").attr("x1",1021).attr("x2",1021).attr("y1",s(1e-5)).attr("y2",s(1e-8)).attr("stroke","#444").attr("stroke-width",1.2);
  g.selectAll("line.t").data(logTicks).join("line").attr("class","t").attr("x1",1017).attr("x2",1021)
    .attr("y1",d=>s(d)).attr("y2",d=>s(d)).attr("stroke","#444");
  logTicks.forEach(v=>{
    const t = g.append("text").attr("x",1026).attr("y",s(v)+6).style("font-family",SANS).style("font-size","14px").attr("fill","#444").text("10");
    t.append("tspan").attr("dy",-6).style("font-size","10px").text("\u2212"+Math.abs(Math.round(Math.log10(v))));
  });
});

main.append("text").attr("x",335).attr("y",92).style("font-family",SERIF).style("font-size","22px").attr("fill","#111").text("HER");
main.append("text").attr("x",335).attr("y",232).style("font-family",SERIF).style("font-size","22px").attr("fill","#111").text("LER");

main.append("text").attr("transform","translate(285,211) rotate(-90)").attr("text-anchor","middle")
  .style("font-family",SERIF).style("font-size","23px").attr("fill","#111").text("Beam Current [A]");
main.append("line").attr("x1",289).attr("x2",289).attr("y1",129).attr("y2",283).attr("stroke","#ff0000").attr("stroke-width",2);
main.append("text").attr("transform","translate(283,350) rotate(-90)").attr("text-anchor","end")
  .style("font-family",SERIF).style("font-size","17px").attr("fill","#111").text("Luminosity [/nb/sec]");
main.append("line").attr("x1",289).attr("x2",289).attr("y1",372).attr("y2",482).attr("stroke","#ffb400").attr("stroke-width",2);
main.append("text").attr("transform","translate(280,511) rotate(-90)").attr("text-anchor","end")
  .style("font-family",SERIF).style("font-size","11px").attr("fill","#111").text("Spec. L. [%]");
main.append("line").attr("x1",289.5).attr("x2",289.5).attr("y1",513).attr("y2",563).attr("stroke","#0000ff").attr("stroke-width",2);

main.append("text").attr("transform","translate(993,73) rotate(90)").style("font-family",SERIF).style("font-size","16.5px")
  .style("font-weight","bold").attr("fill","#111").text("\u21d0 Lifetime [min]");
main.append("line").attr("x1",986).attr("x2",986).attr("y1",86).attr("y2",187).attr("stroke","#00f4f4").attr("stroke-width",2.5);
main.append("text").attr("transform","translate(993,217) rotate(90)").style("font-family",SERIF).style("font-size","16.5px")
  .style("font-weight","bold").attr("fill","#111").text("Pressure [Pa] \u21d2");
main.append("line").attr("x1",986).attr("x2",986).attr("y1",225).attr("y2",327).attr("stroke","#9b30ff").attr("stroke-width",2.5);
main.append("text").attr("transform","translate(1008,360) rotate(90)").style("font-family",SERIF).style("font-size","16px")
  .attr("fill","#111").text("Integ. Lum. [/fb]");
main.append("text").attr("transform","translate(990,362) rotate(90)").style("font-family",SERIF).style("font-size","16px")
  .attr("fill","#111").text("delivered & logged");
main.append("line").attr("x1",986).attr("x2",986).attr("y1",379).attr("y2",416).attr("stroke","#77dd11").attr("stroke-width",2.5);
main.append("line").attr("x1",986).attr("x2",986).attr("y1",443).attr("y2",477).attr("stroke","#006400").attr("stroke-width",2.5);

const title = svg.append("g").style("font-family","'Liberation Sans',Arial,sans-serif").style("font-weight","bold")
  .style("font-size","39px").attr("fill","#0c0c5c").attr("text-anchor","end");
title.append("text").attr("x",320).attr("y",516).text("Feb.2005");
title.append("text").attr("x",318).attr("y",573).text("Continuous");
title.append("text").attr("x",318).attr("y",631).text("Injections");
</script></body></html>
